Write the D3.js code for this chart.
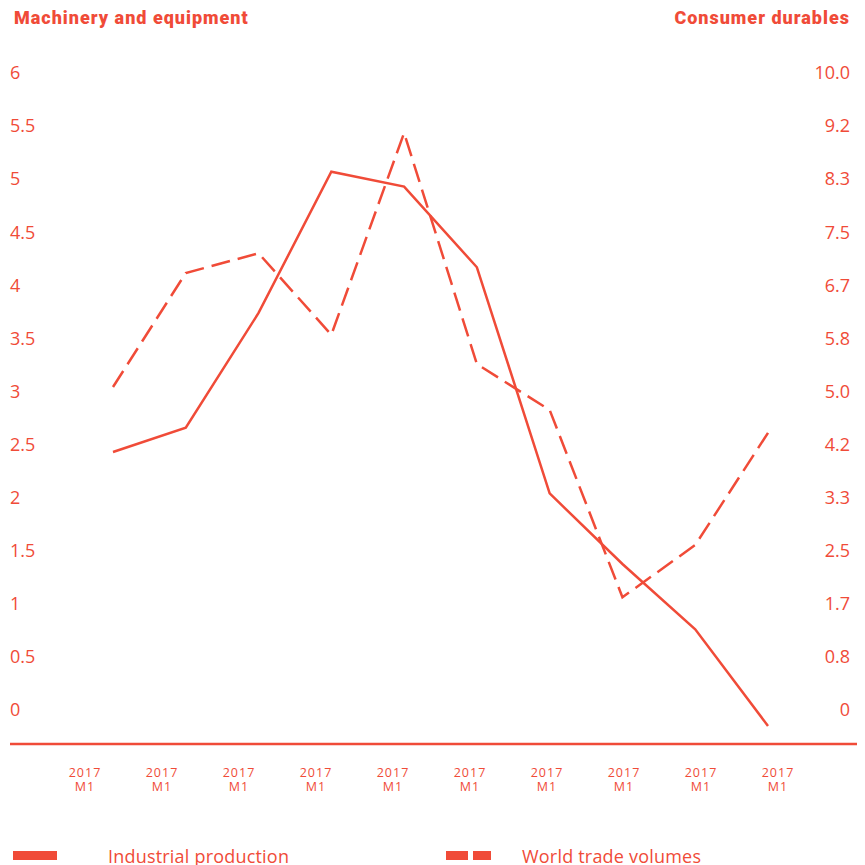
<!DOCTYPE html>
<html>
<head>
<meta charset="utf-8">
<script src="https://cdn.jsdelivr.net/npm/d3@7"></script>
<style>
  html, body { margin: 0; padding: 0; background: #fff; }
  svg { display: block; }
</style>
</head>
<body>
<svg id="chart" width="865" height="865"></svg>
<script>
// Monthly observations (all labelled "2017 M1" on the axis)
const periods = ["2017 M1","2017 M1","2017 M1","2017 M1","2017 M1","2017 M1","2017 M1","2017 M1","2017 M1","2017 M1"];
// Industrial production — read on the left axis (Machinery and equipment)
const industrialProduction = [2.43, 2.66, 3.74, 5.07, 4.93, 4.17, 2.04, 1.375, 0.76, -0.15];
// World trade volumes — read on the right axis (Consumer durables)
const worldTradeVolumes = [5.07, 6.86, 7.17, 5.89, 9.06, 5.43, 4.71, 1.77, 2.59, 4.35];

const leftTicks = [0, 0.5, 1, 1.5, 2, 2.5, 3, 3.5, 4, 4.5, 5, 5.5, 6];
const rightTicks = [0, 0.8333, 1.6667, 2.5, 3.3333, 4.1667, 5, 5.8333, 6.6667, 7.5, 8.3333, 9.1667, 10];
const leftTitle = "Machinery and equipment";
const rightTitle = "Consumer durables";
const seriesNames = ["Industrial production", "World trade volumes"];

const RED = "#f04b38";
const svg = d3.select("#chart");

// Scales
const yLeft = d3.scaleLinear().domain([0, 6]).range([710, 73]);
const yRight = d3.scaleLinear().domain([0, 10]).range([710, 73]);
const idx = d3.range(periods.length);
const x = d3.scalePoint().domain(idx).range([113, 768]);
const xLabel = d3.scalePoint().domain(idx).range([85, 778]);

const tickFont = "'Open Sans', sans-serif";

// Axis titles
svg.append("text").attr("x", 14).attr("y", 24)
  .attr("font-family", "Roboto, sans-serif").attr("font-weight", 900)
  .attr("font-size", 18).attr("letter-spacing", 1).attr("fill", RED).text(leftTitle);
svg.append("text").attr("x", 850).attr("y", 24).attr("text-anchor", "end")
  .attr("font-family", "Roboto, sans-serif").attr("font-weight", 900)
  .attr("font-size", 18).attr("letter-spacing", 1).attr("fill", RED).text(rightTitle);

// Left axis labels
const gL = svg.append("g").attr("transform", "translate(10,0)")
  .call(d3.axisLeft(yLeft).tickValues(leftTicks).tickSize(0).tickPadding(0)
    .tickFormat(d3.format("")));
gL.select(".domain").remove();
gL.selectAll("text").attr("text-anchor", "start").attr("x", 0)
  .attr("font-family", tickFont).attr("font-size", 18).attr("fill", RED);

// Right axis labels
const gR = svg.append("g").attr("transform", "translate(850,0)")
  .call(d3.axisRight(yRight).tickValues(rightTicks).tickSize(0).tickPadding(0)
    .tickFormat(d => d === 0 ? "0" : d3.format(".1f")(d)));
gR.select(".domain").remove();
gR.selectAll("text").attr("text-anchor", "end").attr("x", 0)
  .attr("font-family", tickFont).attr("font-size", 18).attr("fill", RED);

// Baseline
svg.append("line").attr("x1", 10).attr("x2", 857).attr("y1", 744).attr("y2", 744)
  .attr("stroke", RED).attr("stroke-width", 2.5);

// X labels: year on the first line, month on the second
const xg = svg.append("g").attr("font-family", tickFont).attr("font-size", 12.5)
  .attr("letter-spacing", 1).attr("fill", RED).attr("text-anchor", "middle");
xg.selectAll("text.yr").data(idx).join("text").attr("class", "yr")
  .attr("x", d => xLabel(d)).attr("y", 777).text(d => periods[d].split(" ")[0]);
xg.selectAll("text.mo").data(idx).join("text").attr("class", "mo")
  .attr("x", d => xLabel(d)).attr("y", 790.5).text(d => periods[d].split(" ")[1]);

// Lines
const lineL = d3.line().x((d, i) => x(i)).y(d => yLeft(d));
const lineR = d3.line().x((d, i) => x(i)).y(d => yRight(d));
svg.append("path").datum(industrialProduction).attr("d", lineL)
  .attr("fill", "none").attr("stroke", RED).attr("stroke-width", 2.5)
  .attr("stroke-linejoin", "miter");
svg.append("path").datum(worldTradeVolumes).attr("d", lineR)
  .attr("fill", "none").attr("stroke", RED).attr("stroke-width", 2.5)
  .attr("stroke-dasharray", "19,8");

// Legend
const lg = svg.append("g");
lg.append("rect").attr("x", 13).attr("y", 851).attr("width", 44).attr("height", 9).attr("fill", RED);
lg.append("text").attr("x", 108).attr("y", 863).attr("font-family", tickFont)
  .attr("font-size", 18).attr("letter-spacing", 0.2).attr("fill", RED).text(seriesNames[0]);
lg.append("rect").attr("x", 446).attr("y", 851).attr("width", 22).attr("height", 9).attr("fill", RED);
lg.append("rect").attr("x", 473).attr("y", 851).attr("width", 18).attr("height", 9).attr("fill", RED);
lg.append("text").attr("x", 522).attr("y", 863).attr("font-family", tickFont)
  .attr("font-size", 18).attr("letter-spacing", 0.2).attr("fill", RED).text(seriesNames[1]);
</script>
</body>
</html>
